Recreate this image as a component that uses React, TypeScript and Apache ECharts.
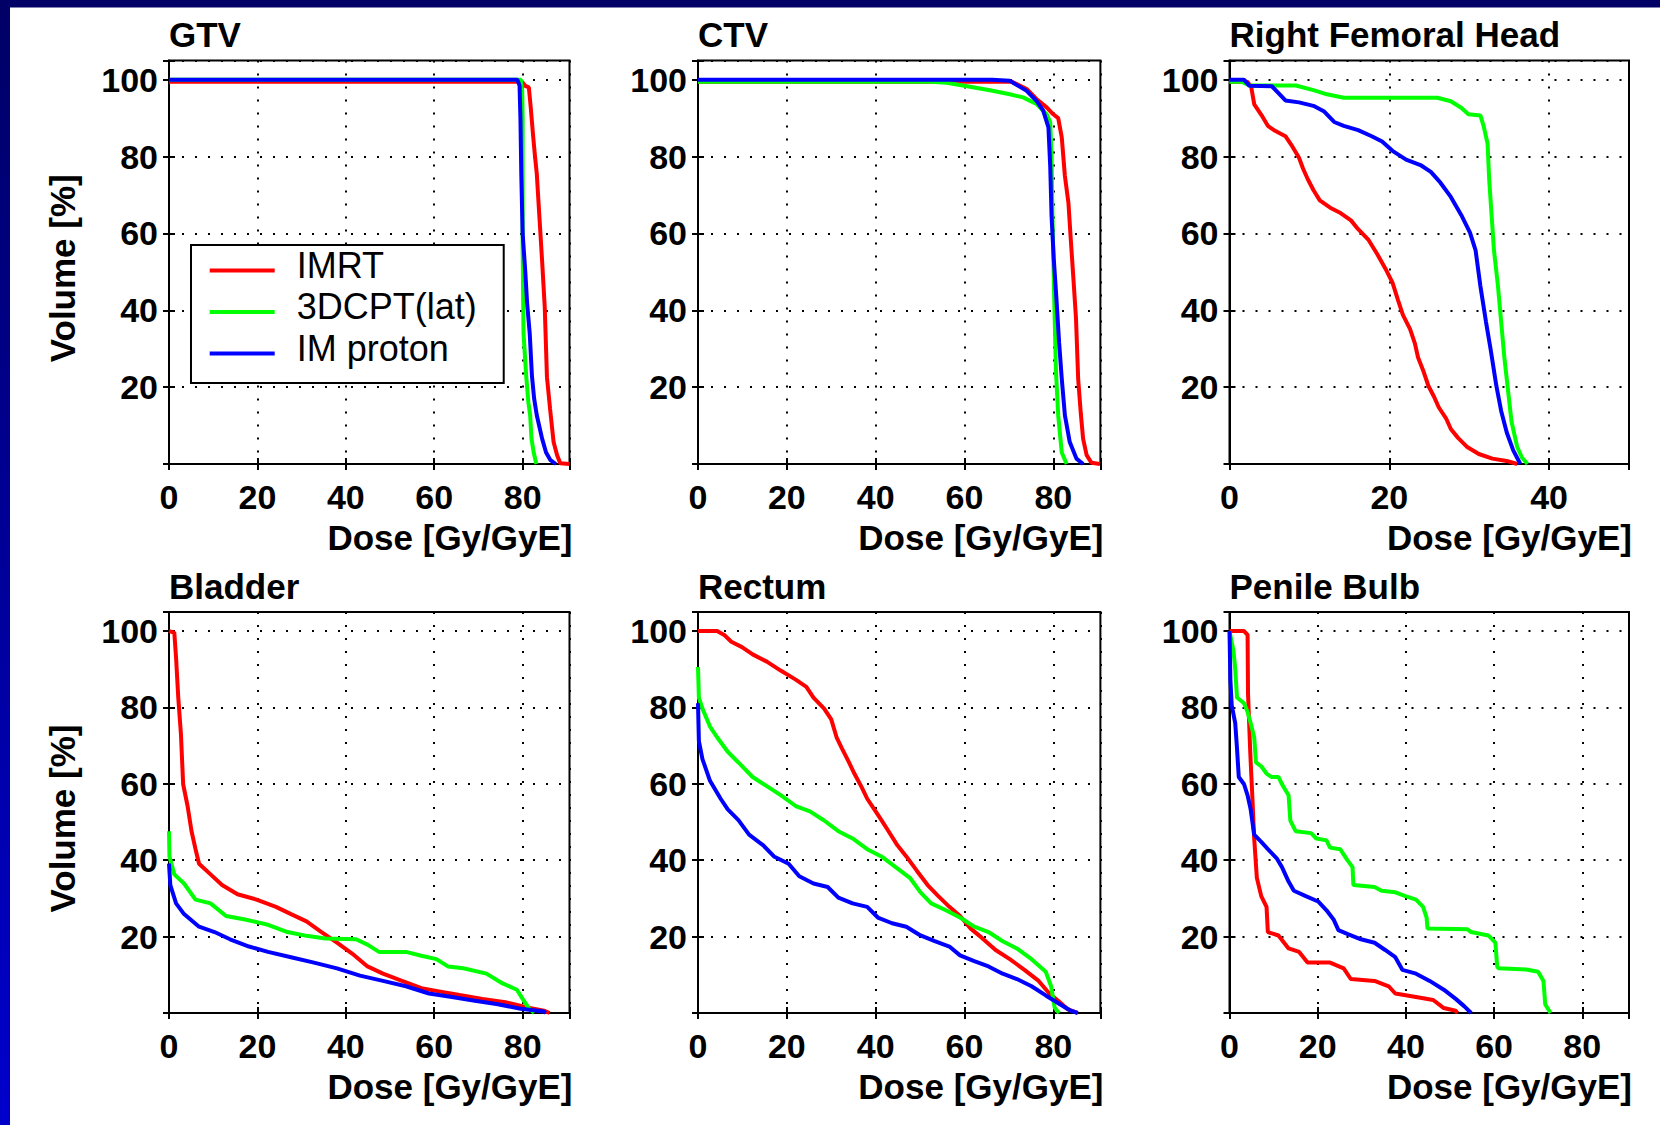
import React, { useEffect, useRef } from "react";
import * as echarts from "echarts";

const W = 1660;
const H = 1125;
const FONT = '"Liberation Sans", Arial, Helvetica, sans-serif';

const panelTitles = ["GTV", "CTV", "Right Femoral Head", "Bladder", "Rectum", "Penile Bulb"];
const doseMax = [90.6, 90.6, 50, 90.6, 90.6, 90.6];
const seriesNames = ["IMRT", "3DCPT(lat)", "IM proton"];
const seriesColors = ["#ff0000", "#00ff00", "#0000ff"];
const xTickLabels = [0, 20, 40, 60, 80];
const yTickLabels = [20, 40, 60, 80, 100];
const xAxisTitle = "Dose [Gy/GyE]";
const yAxisTitle = "Volume [%]";

// ---- GTV ----
const gtvImrt = [[0, 99.5], [79.8, 99.5], [80.6, 98.4], [81.4, 98], [81.8, 93.2], [82.4, 85], [82.8, 80], [83.2, 75.5], [83.8, 64.2], [84.4, 52.9], [85, 40.8], [85.5, 22.6], [86.2, 14.4], [87, 5.7], [87.8, 2.3], [88.5, 0.2], [90.6, 0]];
const gtv3dcpt = [[0, 100], [79.6, 100], [79.9, 97], [80, 90], [80, 75], [80, 57], [80.1, 45], [80.2, 34], [80.8, 23], [81.3, 16], [81.7, 12.7], [82, 6.6], [82.5, 3], [83.1, 0]];
const gtvImProton = [[0, 100], [78.8, 100], [79.3, 98.5], [79.5, 90], [79.7, 75], [80, 60], [80.3, 55], [80.6, 50], [81, 42], [81.6, 34], [82.1, 23], [82.6, 17], [83.2, 12.7], [84.4, 6.6], [85.3, 3], [86.3, 1], [87.5, 0]];

// ---- CTV ----
const ctvImrt = [[0, 99.5], [70.6, 99.5], [74, 97.6], [76.2, 95], [78.5, 92.8], [80, 91], [81.1, 90], [81.9, 85], [82.6, 75], [83.4, 68], [83.9, 59], [84.5, 48.6], [85.1, 38], [85.6, 22], [86.2, 13], [86.7, 6.6], [87.5, 2.3], [88.6, 0.3], [90.5, 0]];
const ctv3dcpt = [[0, 99.5], [52.5, 99.5], [56, 99.2], [60.6, 98.3], [66, 97.2], [70.2, 96.2], [73.2, 95.4], [76.2, 93.7], [78.5, 91], [79.3, 89], [79.6, 80], [79.8, 65], [80, 54], [80.2, 43], [80.6, 24], [81.1, 12.7], [81.9, 3], [83, 0]];
const ctvImProton = [[0, 100], [66.2, 100], [70.2, 99.7], [74, 97.1], [76.2, 94.5], [77.7, 92], [78.9, 87.6], [79.3, 77.6], [79.6, 64.6], [80.1, 53.4], [80.7, 43], [81.3, 31.7], [81.9, 22.2], [82.6, 12.7], [83.7, 5.7], [85.2, 1.4], [86.7, 0]];

// ---- Right Femoral Head ----
const rfhImrt = [[0, 99.5], [2.2, 99.5], [2.7, 98.3], [3.1, 93.6], [4, 90.8], [4.8, 88], [5.7, 86.7], [7, 85.3], [7.9, 82.5], [8.7, 79.7], [9.2, 76.9], [9.8, 74.1], [10.5, 71.3], [11.3, 68.6], [12.6, 66.7], [13.9, 65.3], [15.2, 63.4], [16.1, 61.1], [17.4, 58.3], [18.5, 54.6], [19.5, 50.9], [20.4, 47.2], [21.1, 42.6], [21.7, 38.8], [22.6, 35.1], [23.2, 31.4], [23.6, 27.7], [24.3, 24], [24.9, 20.3], [25.6, 17.5], [26.2, 14.7], [27.1, 11.9], [27.7, 9.1], [28.6, 6.8], [29.7, 4.5], [31.2, 2.6], [32.9, 1.4], [34.7, 0.8], [36, 0]];
const rfh3dcpt = [[0, 99.5], [1.5, 99.5], [2.5, 98.5], [8.3, 98.5], [10.5, 97.3], [12.2, 96.2], [14.3, 95.3], [26, 95.3], [27.7, 94.4], [29, 92.7], [29.9, 91], [31.4, 90.7], [31.8, 88], [32.3, 83.4], [32.5, 74.1], [32.8, 64.8], [33.1, 55.6], [33.6, 46.3], [34, 37], [34.4, 27.7], [34.9, 18.4], [35.3, 11], [36, 4.5], [36.6, 1.7], [37.3, 0]];
const rfhImProton = [[0, 100], [1.8, 100], [2.5, 98.4], [5.3, 98.3], [6.1, 96.6], [7, 94.6], [8.7, 94.1], [10.5, 93.2], [11.8, 91.8], [13.1, 89], [14.3, 88], [16.1, 86.9], [17.8, 85.3], [19.1, 83.9], [20.4, 81.5], [22.1, 79.2], [23.9, 77.8], [25.2, 76], [26.4, 73.2], [27.7, 69.5], [29, 64.8], [30.1, 60.2], [30.8, 55.6], [31.4, 46.3], [32.1, 37], [32.7, 29.6], [33.4, 20.3], [34, 13.8], [34.7, 8.2], [35.5, 3.6], [36.4, 0]];

// ---- Bladder ----
const bladderImrt = [[0, 100], [1.2, 99.6], [1.6, 93], [2.1, 82.5], [2.7, 73], [3.2, 59.9], [4.2, 54.2], [5.1, 47.6], [6, 42.9], [6.8, 39.1], [9.4, 36.3], [12, 33.5], [15.5, 31.1], [19.8, 29.7], [24.2, 27.8], [27.6, 25.9], [31.1, 24], [34.5, 21.2], [38, 18.4], [41.5, 15.5], [44.9, 12.2], [48.4, 10.3], [52.7, 8.4], [57.1, 6.5], [61.4, 5.6], [65.7, 4.7], [70.9, 3.7], [76.1, 2.8], [81.3, 1.4], [84.8, 0.6], [86.1, 0]];
const bladder3dcpt = [[0, 47.6], [0.1, 41], [1.2, 36.3], [3.4, 33.9], [6, 29.7], [9.4, 28.7], [12.9, 25.4], [17.2, 24.5], [22.4, 23.1], [26.8, 21.2], [31.1, 20.2], [35.4, 19.5], [42.3, 19.3], [44.9, 17.9], [47.5, 16], [53.6, 16], [57.1, 15], [60.5, 14.1], [63.1, 12.2], [66.6, 11.7], [71.8, 10.3], [75.2, 7.9], [78.7, 6.1], [80, 3.7], [81.3, 1.4], [82.6, 0]];
const bladderImProton = [[0, 39.1], [0.3, 33.5], [1.6, 28.7], [3.4, 25.9], [6.8, 22.6], [10.3, 21.2], [13.8, 19.3], [18.1, 17.4], [22.4, 16], [27.6, 14.6], [32.8, 13.2], [38, 11.7], [43.2, 9.8], [48.4, 8.4], [53.6, 7], [58.8, 5.1], [64, 4.2], [69.2, 3.2], [74.4, 2.3], [79.6, 1.1], [84.8, 0.4], [85.2, 0]];

// ---- Rectum ----
const rectumImrt = [[0, 100], [4.3, 100], [5.9, 99], [7.5, 97.2], [9.9, 95.8], [12.3, 93.9], [15.5, 92], [18.7, 89.6], [22, 87.3], [24.4, 85.4], [26, 82.6], [28.4, 79.7], [30, 76.9], [31.2, 72.2], [32.4, 69.3], [34, 65.6], [35.2, 62.7], [36.9, 59], [38.1, 56.1], [39.7, 53.3], [41.3, 50.5], [42.9, 47.6], [44.9, 43.9], [46.9, 41], [49.3, 37.2], [51.7, 33.5], [54.1, 30.6], [56.6, 27.8], [59, 25.4], [61.4, 22.1], [63.8, 19.8], [67, 16.5], [70.2, 14.1], [73.5, 11.3], [76.7, 8.4], [79.1, 5.1], [81.1, 3.2], [83.1, 1.1], [85.5, 0]];
const rectum3dcpt = [[0, 90.6], [0.2, 82.6], [1, 79.7], [2.7, 75], [4.3, 72.2], [6.7, 68.4], [9.1, 65.6], [12.3, 61.8], [15.5, 59.4], [18.7, 57], [22, 54.2], [25.2, 52.8], [28.4, 50.4], [31.6, 47.6], [34.8, 45.7], [38.1, 42.9], [41.3, 41], [44.5, 38.2], [47.7, 35.4], [50.1, 31.6], [52.5, 28.7], [55.8, 26.9], [59, 25], [62.2, 22.6], [65.4, 21.2], [68.6, 18.8], [71.8, 16.9], [75.1, 14.1], [78.3, 10.8], [79.5, 7], [80.3, 1.4], [81.3, 0]];
const rectumImProton = [[0, 81.1], [0.2, 71.2], [1, 66.5], [2.7, 60.8], [5.1, 56.1], [6.7, 53.3], [9.1, 50.5], [11.5, 46.7], [14.7, 43.9], [17.1, 41], [20.4, 39.1], [22.8, 35.8], [26, 33.9], [29.2, 33], [31.6, 30.2], [34.8, 28.7], [38.1, 27.8], [40.5, 25], [43.7, 23.5], [46.9, 22.6], [50.1, 20.3], [53.3, 18.8], [56.6, 17.4], [59, 15.1], [62.2, 13.6], [65.4, 12.2], [68.6, 10.3], [71.8, 8.9], [75.1, 7], [78.3, 4.6], [81.5, 2.3], [83.9, 0.6], [85.5, 0]];

// ---- Penile Bulb ----
const penileImrt = [[0, 100], [3.3, 100], [4.1, 99], [4.2, 83.7], [4.7, 68.4], [5.2, 56.1], [5.6, 45.7], [6.2, 35.4], [7.2, 30.6], [8.4, 27.8], [8.7, 21.2], [11.1, 20.3], [13.4, 16.9], [15.8, 16], [17.7, 13.2], [22.8, 13.2], [25.9, 11.7], [27.5, 8.9], [32.9, 8.4], [36.1, 7], [37.6, 5.1], [42.3, 4.2], [46.2, 3.4], [48.6, 1.3], [51.3, 0.6], [51.7, 0]];
const penile3dcpt = [[0, 100], [0.9, 94.8], [1.3, 90.1], [1.7, 82.6], [3.3, 81.1], [4.1, 78.8], [4.8, 75.9], [5.6, 72.2], [6, 65.6], [7.2, 64.6], [8.4, 62.7], [9.5, 61.8], [11.1, 61.8], [11.9, 59.9], [13.4, 57], [13.8, 50.4], [15, 47.6], [18.5, 47.1], [19.7, 45.7], [22, 45.2], [22.8, 43.3], [25.1, 42.9], [26.7, 40.1], [27.9, 38.2], [28.1, 33.5], [32.9, 33], [34.5, 32], [37.6, 31.6], [39.9, 30.6], [42.3, 29.7], [43.9, 27.8], [44.7, 25], [44.9, 22.1], [54, 21.9], [54.8, 21.2], [58.7, 20.3], [60.3, 18.4], [60.7, 12.2], [61, 11.7], [67.3, 11.4], [70, 10.8], [71.2, 8.4], [71.6, 2.3], [72.8, 0]];
const penileImProton = [[0, 100], [0.2, 87.3], [0.5, 80.6], [1.3, 75.9], [1.7, 69.3], [2.1, 61.8], [3.3, 59.9], [4.1, 57], [4.8, 53.3], [5.6, 46.7], [7.2, 44.8], [8.7, 42.9], [10.7, 40.5], [11.9, 38.2], [13.4, 34.4], [14.6, 32], [17.3, 30.6], [20.1, 29.2], [22, 26.9], [23.6, 24.5], [24.7, 21.7], [26.7, 20.7], [29.8, 19.3], [32.9, 18.4], [35.3, 16.5], [37.6, 14.6], [39.2, 11.3], [42.3, 10.3], [45.4, 8.4], [48.6, 6.1], [51.3, 3.7], [53.2, 1.8], [54.8, 0]];

const panelData = [
  [gtvImrt, gtv3dcpt, gtvImProton],
  [ctvImrt, ctv3dcpt, ctvImProton],
  [rfhImrt, rfh3dcpt, rfhImProton],
  [bladderImrt, bladder3dcpt, bladderImProton],
  [rectumImrt, rectum3dcpt, rectumImProton],
  [penileImrt, penile3dcpt, penileImProton],
];

// ---- layout (pixels) ----
const colLeft = [169, 698, 1229.5];
const colRight = [569.5, 1100.4, 1629];
const rowTop = [60.5, 612];
const rowBottom = [464, 1013];

function buildOption() {
  const grids: any[] = [];
  const xAxes: any[] = [];
  const yAxes: any[] = [];
  const series: any[] = [];
  const graphics: any[] = [];

  const tickStyle = { color: "#000", width: 2 };
  const gridLineStyle = { color: "#000", width: 2, type: [2, 11] };
  const labelStyle = { color: "#000", fontSize: 34, fontWeight: "bold", fontFamily: FONT };

  // frame strips
  graphics.push({
    type: "rect",
    shape: { x: 0, y: 0, width: 10, height: H },
    style: {
      fill: new echarts.graphic.LinearGradient(0, 0, 0, 1, [
        { offset: 0, color: "#000066" },
        { offset: 1, color: "#0000cc" },
      ]),
    },
    silent: true,
  });
  graphics.push({
    type: "rect",
    shape: { x: 0, y: 0, width: W, height: 7.6 },
    style: { fill: "#000066" },
    silent: true,
  });

  for (let i = 0; i < 6; i++) {
    const r = Math.floor(i / 3);
    const c = i % 3;
    const left = colLeft[c];
    const top = rowTop[r];
    const width = colRight[c] - colLeft[c];
    const height = rowBottom[r] - rowTop[r];
    grids.push({
      left, top, width, height,
      show: true, borderColor: "#000", borderWidth: 2, backgroundColor: "#fff",
    });
    const xCommon = { type: "value", gridIndex: i, min: 0, max: doseMax[i], interval: 20 };
    const yCommon = { type: "value", gridIndex: i, min: 0, max: 105, interval: 20 };
    xAxes.push({
      ...xCommon, position: "bottom",
      axisLine: { show: true, lineStyle: tickStyle },
      axisTick: { show: true, inside: true, length: 6, lineStyle: tickStyle },
      axisLabel: {
        ...labelStyle, margin: 16,
        formatter: (v: number) => (xTickLabels.includes(v) ? String(v) : ""),
      },
      splitLine: { show: true, lineStyle: gridLineStyle },
    });
    xAxes.push({
      ...xCommon, position: "top",
      axisLine: { show: false },
      axisTick: { show: true, inside: true, length: 6, lineStyle: tickStyle },
      axisLabel: { show: false },
      splitLine: { show: false },
    });
    yAxes.push({
      ...yCommon, position: "left",
      axisLine: { show: true, lineStyle: tickStyle },
      axisTick: { show: true, inside: true, length: 6, lineStyle: tickStyle },
      axisLabel: {
        ...labelStyle, margin: 11,
        formatter: (v: number) => (yTickLabels.includes(v) ? String(v) : ""),
      },
      splitLine: { show: true, lineStyle: gridLineStyle },
    });
    yAxes.push({
      ...yCommon, position: "right",
      axisLine: { show: false },
      axisTick: { show: true, inside: true, length: 6, lineStyle: tickStyle },
      axisLabel: { show: false },
      splitLine: { show: false },
    });

    panelData[i].forEach((d, k) => {
      series.push({
        type: "line",
        name: seriesNames[k],
        xAxisIndex: 2 * i,
        yAxisIndex: 2 * i,
        data: d,
        showSymbol: false,
        symbol: "none",
        clip: false,
        silent: true,
        z: 3 + k,
        lineStyle: { color: seriesColors[k], width: 4 },
        itemStyle: { color: seriesColors[k] },
        emphasis: { disabled: true },
      });
    });

    // panel title
    graphics.push({
      type: "text",
      x: left,
      y: top - 26,
      silent: true,
      style: {
        text: panelTitles[i], fill: "#000", fontSize: 35, fontWeight: "bold", fontFamily: FONT,
        align: "left", verticalAlign: "middle", textAlign: "left", textVerticalAlign: "middle",
      },
    });
    // x axis title
    graphics.push({
      type: "text",
      x: colRight[c] + 3,
      y: rowBottom[r] + 73.5,
      silent: true,
      style: {
        text: xAxisTitle, fill: "#000", fontSize: 35, fontWeight: "bold", fontFamily: FONT,
        align: "right", verticalAlign: "middle", textAlign: "right", textVerticalAlign: "middle",
      },
    });
    if (c === 0) {
      graphics.push({
        type: "text",
        x: 62,
        y: (rowTop[r] + rowBottom[r]) / 2 + 6,
        rotation: Math.PI / 2,
        silent: true,
        style: {
          text: yAxisTitle, fill: "#000", fontSize: 35, fontWeight: "bold", fontFamily: FONT,
          align: "center", verticalAlign: "middle", textAlign: "center", textVerticalAlign: "middle",
        },
      });
    }
  }

  return {
    animation: false,
    backgroundColor: "#fff",
    grid: grids,
    xAxis: xAxes,
    yAxis: yAxes,
    series,
    legend: {
      data: seriesNames,
      orient: "vertical",
      left: 191,
      top: 245,
      padding: [2.4, 27, 6.6, 18.7],
      itemGap: -4.5,
      itemWidth: 65,
      itemHeight: 4,
      icon: "rect",
      borderColor: "#000",
      borderWidth: 2,
      backgroundColor: "#fff",
      selectedMode: false,
      z: 20,
      formatter: "{t|{name}}",
      textStyle: {
        fontSize: 36,
        fontFamily: FONT,
        color: "#000",
        padding: [0, 0, 0, 17],
        rich: {
          t: {
            fontSize: 36,
            fontFamily: FONT,
            color: "#000",
            lineHeight: 26,
            padding: [0, 0, 10, 0],
          },
        },
      },
    },
    graphic: graphics,
  };
}

export default function App() {
  const ref = useRef<HTMLDivElement>(null);
  useEffect(() => {
    if (!ref.current) return;
    const chart = echarts.init(ref.current, undefined, { renderer: "svg" });
    chart.setOption(buildOption() as any);
    return () => chart.dispose();
  }, []);
  return (
    <div
      ref={ref}
      style={{ position: "fixed", left: 0, top: 0, width: W, height: H, background: "#fff" }}
    />
  );
}
